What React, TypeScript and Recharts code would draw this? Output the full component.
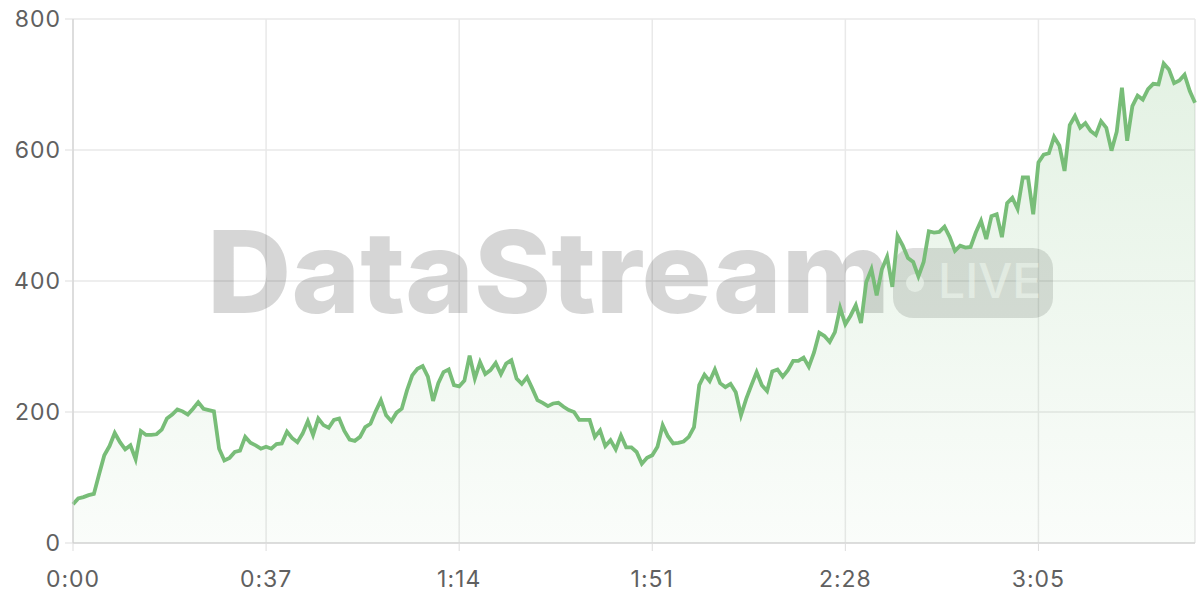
import {
  Area,
  AreaChart,
  CartesianGrid,
  Customized,
  XAxis,
  YAxis,
} from "recharts";

// one sample per second, t = 0..215
const values: number[] = [
  59, 68, 70, 73, 75, 105, 134, 148, 168, 154, 143, 149, 128, 171, 165, 165, 166, 173, 190, 196,
  204, 201, 196, 205, 215, 205, 203, 201, 144, 126, 130, 139, 141, 162, 153, 149, 144, 147, 144, 151,
  152, 170, 160, 154, 167, 186, 165, 190, 180, 176, 188, 190, 171, 158, 156, 162, 177, 182, 201, 218,
  195, 186, 199, 205, 233, 256, 266, 270, 254, 217, 244, 261, 265, 241, 239, 248, 286, 251, 276, 258,
  264, 275, 258, 274, 279, 251, 243, 253, 236, 218, 214, 209, 213, 214, 208, 203, 200, 188, 188, 188,
  162, 172, 148, 157, 143, 164, 146, 146, 139, 121, 130, 134, 147, 180, 163, 152, 153, 155, 162, 177,
  241, 257, 247, 265, 244, 238, 243, 230, 195, 220, 241, 261, 241, 232, 262, 265, 254, 264, 278, 278,
  283, 269, 291, 321, 316, 307, 322, 359, 334, 347, 363, 336, 398, 418, 378, 418, 437, 391, 469, 454,
  435, 429, 407, 429, 476, 474, 475, 483, 467, 446, 454, 451, 452, 474, 492, 464, 499, 502, 467, 519,
  527, 510, 558, 558, 502, 581, 593, 595, 620, 607, 568, 638, 652, 634, 641, 629, 623, 644, 634, 599,
  628, 695, 614, 667, 683, 677, 693, 701, 700, 732, 723, 702, 706, 715, 690, 672,
];

const xTicks = [0, 37, 74, 111, 148, 185];
const yTicks = [0, 200, 400, 600, 800];

const data = values.map((v, i) => ({ t: i, value: v }));

const LINE = "#78bd78";
const TICK = { fill: "#606060", fontSize: 23, fontFamily: "Inter", letterSpacing: 1 };

const fmtTime = (s: number) => `${Math.floor(s / 60)}:${String(s % 60).padStart(2, "0")}`;

function Watermark() {
  return (
    <g pointerEvents="none">
      <text
        x={207}
        y={313}
        textLength={683}
        lengthAdjust="spacingAndGlyphs"
        fontFamily="Inter"
        fontWeight={800}
        fontSize={114}
        fill="#000"
        fillOpacity={0.16}
      >
        DataStream
      </text>
      <rect x={893} y={248} width={160} height={70} rx={20} fill="#000" fillOpacity={0.13} />
      <circle cx={915} cy={283} r={9} fill="#fff" fillOpacity={0.6} />
      <text
        x={938}
        y={298}
        fontFamily="Inter"
        fontWeight={500}
        fontSize={48}
        fill="#fff"
        fillOpacity={0.6}
      >
        LIVE
      </text>
    </g>
  );
}

export default function App() {
  return (
    <div style={{ position: "absolute", left: 0, top: 0, width: 1200, height: 600, background: "#fff" }}>
      <AreaChart width={1200} height={600} data={data} margin={{ top: 19, right: 5, bottom: 0, left: 0 }}>
        <defs>
          <linearGradient id="fillGreen" x1="0" y1="0" x2="0" y2="1">
            <stop offset="0%" stopColor={LINE} stopOpacity={0.34} />
            <stop offset="100%" stopColor={LINE} stopOpacity={0.06} />
          </linearGradient>
        </defs>
        <CartesianGrid stroke="#e9e9e9" strokeWidth={1.5} />
        <XAxis
          dataKey="t"
          type="number"
          domain={[0, 215]}
          ticks={xTicks}
          tickFormatter={fmtTime}
          height={57}
          tick={TICK}
          tickSize={8}
          tickMargin={20}
          stroke="#ccc"
          tickLine={{ stroke: "#ddd" }}
        />
        <YAxis
          domain={[0, 800]}
          ticks={yTicks}
          width={73}
          tick={TICK}
          tickSize={8}
          tickMargin={4}
          stroke="#ccc"
          tickLine={{ stroke: "#ddd" }}
        />
        <Customized component={Watermark} />
        <Area
          type="linear"
          dataKey="value"
          stroke={LINE}
          strokeWidth={3.8}
          fill="url(#fillGreen)"
          isAnimationActive={false}
          dot={false}
          activeDot={false}
        />
      </AreaChart>
    </div>
  );
}
